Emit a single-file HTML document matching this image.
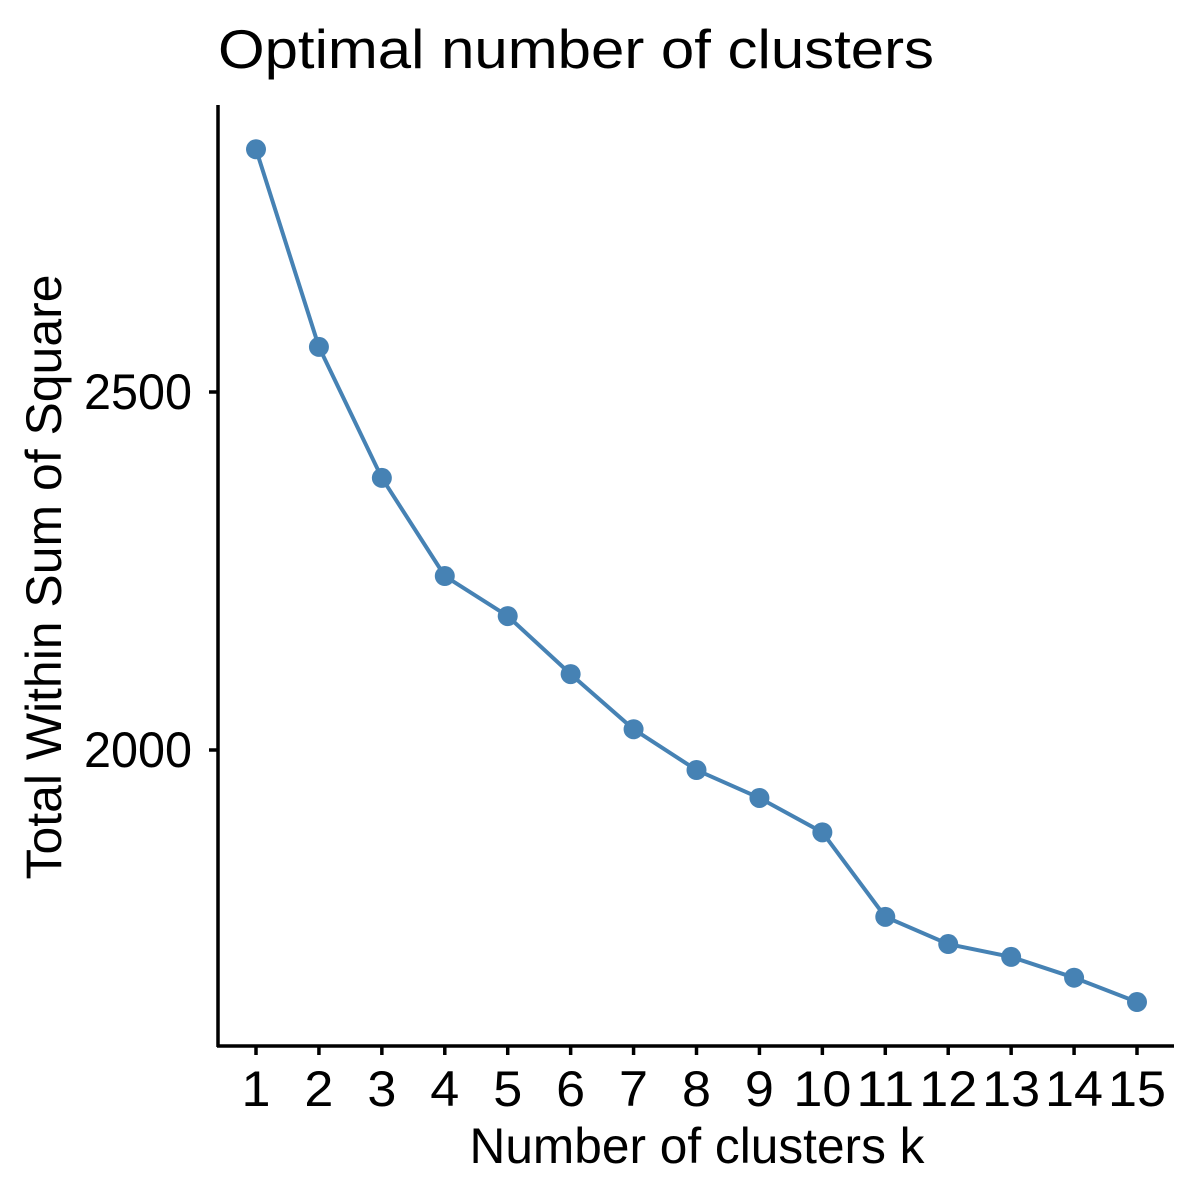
<!DOCTYPE html>
<html><head><meta charset="utf-8"><style>
html,body{margin:0;padding:0;background:#fff;}
svg{display:block;font-family:"Liberation Sans",Arial,sans-serif;}
</style></head><body>
<svg id="chart" width="1200" height="1200" viewBox="0 0 1200 1200">
<rect width="1200" height="1200" fill="#fff"/>
<text x="218" y="68" font-size="55" textLength="716" lengthAdjust="spacingAndGlyphs" fill="#000">Optimal number of clusters</text>
<text x="697" y="1163" font-size="50" text-anchor="middle" textLength="455" lengthAdjust="spacingAndGlyphs" fill="#000">Number of clusters k</text>
<text transform="translate(61,577) rotate(-90)" font-size="50" text-anchor="middle" textLength="605" lengthAdjust="spacingAndGlyphs" fill="#000">Total Within Sum of Square</text>
<g id="axes"></g>
<g id="marks"></g>
</svg>
<script>
const categories = [1,2,3,4,5,6,7,8,9,10,11,12,13,14,15];
const wss = [2839,2563,2380,2243,2187,2106,2029,1972,1933,1885,1767,1729,1711,1682,1648];
const yTicks = [2000,2500];
const yTickLabels = ["2000","2500"];

const NS = "http://www.w3.org/2000/svg";
function xs(k){ return 256 + (k-1)*(1137-256)/14; }
function ys(v){ return 750 - (v-2000)*(358/500); }
function mk(tag, attrs, parent){
  const e = document.createElementNS(NS, tag);
  for (const k in attrs) e.setAttribute(k, attrs[k]);
  parent.appendChild(e);
  return e;
}
const axes = document.getElementById('axes');
const marks = document.getElementById('marks');

let yl = mk('line',{x1:218,y1:105,x2:218,y2:1047,stroke:'#000','stroke-width':3.5},axes);


let xl = mk('line',{x1:217,y1:1046,x2:1174,y2:1046,stroke:'#000','stroke-width':3.5},axes);



yTicks.forEach((v,i)=>{
  const y = ys(v);
  const t = mk('line',{x1:209,y1:y,x2:218,y2:y,stroke:'#000','stroke-width':3.5},axes);
  
  
  const s = yTickLabels[i];
  const l = mk('text',{x:192,y:y+17,'font-size':50,'text-anchor':'end',fill:'#000',textLength:27*s.length,lengthAdjust:'spacingAndGlyphs'},axes);
  l.textContent = s;
  
  
});
categories.forEach(k=>{
  const x = xs(k);
  const t = mk('line',{x1:x,y1:1046,x2:x,y2:1055,stroke:'#000','stroke-width':3.5},axes);
  
  
  const s = String(k);
  const l = mk('text',{x:x,y:1106,'font-size':50,'text-anchor':'middle',fill:'#000',textLength:29*s.length,lengthAdjust:'spacingAndGlyphs'},axes);
  l.textContent = s;
  
  
});

const pts = categories.map((k,i)=>xs(k)+','+ys(wss[i])).join(' ');
const line = mk('polyline',{points:pts,fill:'none',stroke:'#4682B4','stroke-width':4},marks);


categories.forEach((k,i)=>{
  const c = mk('circle',{cx:xs(k),cy:ys(wss[i]),r:10,fill:'#4682B4'},marks);
  
  
});
</script>
</body></html>
